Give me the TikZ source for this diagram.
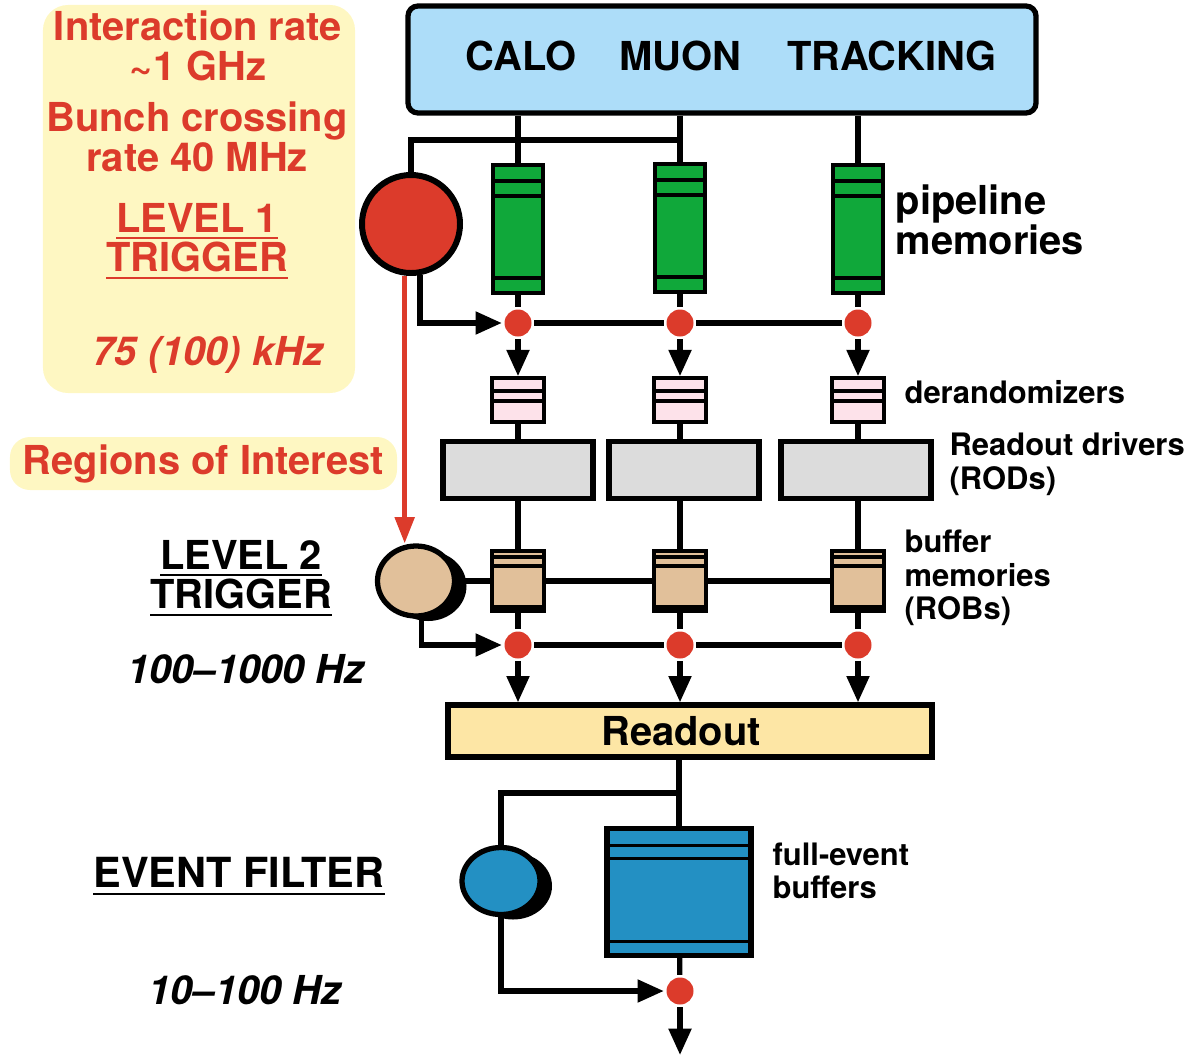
\documentclass[tikz,border=0pt]{standalone}
\usepackage{fontspec}
\setmainfont{TeX Gyre Heros}
\usepackage{xcolor}
\usetikzlibrary{arrows.meta, shapes.geometric, shadows}
\definecolor{trigred}{RGB}{220,59,43}
\definecolor{panelyellow}{RGB}{254,247,194}
\definecolor{detblue}{RGB}{173,221,249}
\definecolor{pipegreen}{RGB}{16,168,58}
\definecolor{derpink}{RGB}{253,226,234}
\definecolor{rodgray}{RGB}{220,220,220}
\definecolor{robtan}{RGB}{225,192,154}
\definecolor{readyellow}{RGB}{253,230,165}
\definecolor{efblue}{RGB}{35,144,195}
\newcommand{\ulbox}[1]{\setbox0\hbox{#1}\rlap{\rule[-4pt]{\wd0}{1.1pt}}\box0}
\tikzset{
    arr/.style={-{Triangle[length=15pt,width=12.5pt]}},
    redarr/.style={draw=trigred, line width=2.6pt, -{Triangle[length=15pt,width=11pt]}},
    bigtxt/.style={font=\fontsize{22.7}{22.5}\selectfont\bfseries, align=center, inner sep=0pt},
    smalltxt/.style={font=\fontsize{17.6}{19}\selectfont\bfseries, align=left, inner sep=0pt},
    panel/.style={fill=panelyellow, rounded corners=5mm, inner sep=0pt},
    hlines/.style={path picture={\foreach \yy in {#1}
        \draw[line width=1.8pt] ([yshift=-\yy]path picture bounding box.north west)
            -- ([yshift=-\yy]path picture bounding box.north east);}},
    dot/.style={circle, fill=trigred, minimum size=5.4mm, inner sep=0pt},
    pipemem/.style={draw, line width=2pt, fill=pipegreen, minimum width=10mm, minimum height=25.6mm, inner sep=0pt, hlines={3.2mm,6.2mm,22.6mm}},
    derbox/.style={draw, line width=2pt, fill=derpink, minimum width=10.4mm, minimum height=8.8mm, inner sep=0pt, hlines={2.6mm,4.6mm}},
    rodbox/.style={draw, fill=rodgray, minimum width=30mm, minimum height=11.4mm, inner sep=0pt},
    robbox/.style={draw, line width=2pt, fill=robtan, minimum width=10.4mm, minimum height=12mm, inner sep=0pt, hlines={1.2mm,3mm,11.2mm}},
    procell/.style={ellipse, draw, inner sep=0pt, drop shadow={fill=black, opacity=1, shadow xshift=2.4mm, shadow yshift=-1mm}}
}
\begin{document}
\begin{tikzpicture}[x=0.2mm, y=-0.2mm, line width=3pt]
    \useasboundingbox (0,0) rectangle (1190,1058);
    % rate panels
    \node (lonepanel) [panel, minimum width=62.4mm, minimum height=77.6mm] at (199,199) {};
    \node (roi) [panel, bigtxt, rounded corners=4mm, minimum width=77.4mm, minimum height=10.6mm, text=trigred] at (203.5,463.5) {Regions of Interest};
    \node (irate) [bigtxt, text=trigred] at (198,46) {Interaction rate\\\textasciitilde1 GHz};
    \node (bxrate) [bigtxt, text=trigred] at (197,137) {Bunch crossing\\rate 40 MHz};
    \node (lonelab) [bigtxt, text=trigred] at (197,241) {\ulbox{LEVEL 1}\\\ulbox{TRIGGER}};
    \node (lonerate) [bigtxt, text=trigred] at (208,355) {\itshape 75 (100) kHz};
    \node (ltwolab) [bigtxt] at (241,578) {\ulbox{LEVEL 2}\\\ulbox{TRIGGER}};
    \node (ltworate) [bigtxt] at (246,669) {\itshape 100--1000 Hz};
    \node (eflab) [bigtxt, font=\fontsize{23.6}{24}\selectfont\bfseries] at (239,876) {\ulbox{EVENT FILTER}};
    \node (efrate) [bigtxt] at (245,990) {\itshape 10--100 Hz};

    % detectors
    \node (det) [draw, fill=detblue, rounded corners=2mm, minimum width=125.6mm, minimum height=21.4mm] at (722,59.5) {};
    \node (calo) [bigtxt] at (521,56) {CALO};
    \node (muon) [bigtxt] at (680,56) {MUON};
    \node (tracking) [bigtxt] at (892,56) {TRACKING};

    % level 1
    \node (lvlone) [circle, draw, line width=3.4pt, fill=trigred, minimum size=19.6mm] at (411,224) {};
    \node (pipeA) [pipemem] at (518,229) {};
    \node (pipeB) [pipemem] at (680,228) {};
    \node (pipeC) [pipemem] at (858,229) {};
    \node (lonedotA) [dot] at (518,323) {};
    \node (lonedotB) [dot] at (680,323) {};
    \node (lonedotC) [dot] at (858,323) {};
    \node (derA) [derbox] at (518,400) {};
    \node (derB) [derbox] at (680,400) {};
    \node (derC) [derbox] at (858,400) {};
    \node (rodA) [rodbox] at (518,470) {};
    \node (rodB) [rodbox] at (684,470) {};
    \node (rodC) [rodbox] at (856,470) {};
    \node (pipelab) [bigtxt, align=left, anchor=west] at (893,220) {pipeline\\memories};
    \node (derlab) [smalltxt, anchor=west] at (902,392) {derandomizers};
    \node (rodlab) [smalltxt, anchor=west] at (947,464) {Readout drivers\\(RODs)};

    % level 2
    \node (lvltwo) [procell, fill=robtan, minimum width=15.4mm, minimum height=14mm] at (416,581) {};
    \node (robA) [robbox] at (518,581) {};
    \node (robB) [robbox] at (680,581) {};
    \node (robC) [robbox] at (858,581) {};
    \node (ltwodotA) [dot] at (518,645) {};
    \node (ltwodotB) [dot] at (680,645) {};
    \node (ltwodotC) [dot] at (858,645) {};
    \node (roblab) [smalltxt, anchor=west] at (902,578) {buffer\\memories\\(ROBs)};
    \node (readout) [draw, fill=readyellow, minimum width=96.8mm, minimum height=10.4mm] at (690,731) {};
    \node (readlab) [bigtxt] at (681,731) {Readout};

    % event filter
    \node (evfilt) [procell, fill=efblue, minimum width=15.6mm, minimum height=13.4mm] at (501,881) {};
    \node (fullbuf) [draw, fill=efblue, minimum width=28.8mm, minimum height=25.4mm, hlines={3.4mm,6mm,22.6mm}] at (679,892) {};
    \node (fulllab) [smalltxt, anchor=west] at (770,871) {full-event\\buffers};
    \node (efdot) [dot] at (680,991) {};
    \coordinate (tap) at (682,140);
    \coordinate (split) at (680,793);
    \coordinate (out) at (680,1055);

    % data flow
    \draw (pipeA.north |- det.south) -- (pipeA);
    \draw (pipeB.north |- det.south) -- (pipeB);
    \draw (pipeC.north |- det.south) -- (pipeC);
    \draw (tap) -| (lvlone);
    \draw [arr] (lvlone.-80) |- (lonedotA);
    \draw (lonedotA) -- (lonedotB);
    \draw (lonedotB) -- (lonedotC);
    \draw (pipeA) -- (lonedotA);
    \draw (pipeB) -- (lonedotB);
    \draw (pipeC) -- (lonedotC);
    \draw [arr] (lonedotA) -- (derA);
    \draw [arr] (lonedotB) -- (derB);
    \draw [arr] (lonedotC) -- (derC);
    \draw (derA) -- (derA |- rodA.north);
    \draw (derB) -- (derB |- rodB.north);
    \draw (derC) -- (derC |- rodC.north);
    \draw (rodA.south -| robA) -- (robA);
    \draw (rodB.south -| robB) -- (robB);
    \draw (rodC.south -| robC) -- (robC);
    \draw [redarr] (lvlone.-97) -- (lvlone.-97 |- lvltwo.north);
    \draw (lvltwo) -- (robA);
    \draw (robA) -- (robB);
    \draw (robB) -- (robC);
    \draw [arr] (lvltwo.-82) |- (ltwodotA);
    \draw (ltwodotA) -- (ltwodotB);
    \draw (ltwodotB) -- (ltwodotC);
    \draw (robA) -- (ltwodotA);
    \draw (robB) -- (ltwodotB);
    \draw (robC) -- (ltwodotC);
    \draw [arr] (ltwodotA) -- (ltwodotA |- readout.north);
    \draw [arr] (ltwodotB) -- (ltwodotB |- readout.north);
    \draw [arr] (ltwodotC) -- (ltwodotC |- readout.north);
    \draw (readout.south -| fullbuf) -- (fullbuf);
    \draw (split) -| (evfilt);
    \draw [arr] (evfilt) |- (efdot);
    \draw (fullbuf) -- (efdot);
    \draw [arr] (efdot) -- (out);
\end{tikzpicture}
\end{document}
